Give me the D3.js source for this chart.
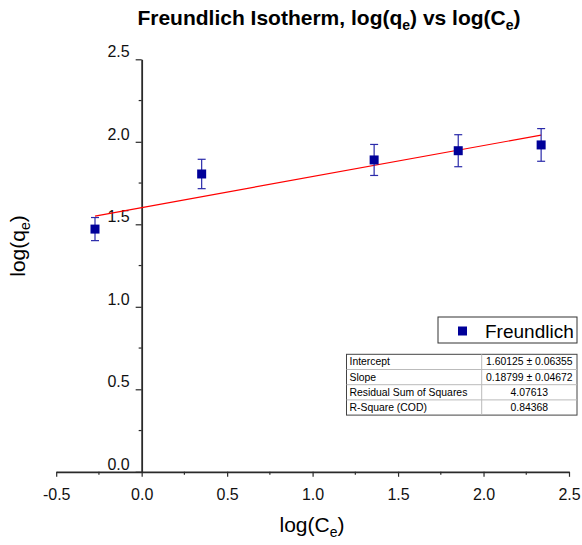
<!DOCTYPE html>
<html>
<head>
<meta charset="utf-8">
<script src="https://cdn.jsdelivr.net/npm/d3@7"></script>
<style>
  body { margin: 0; background: #fff; }
  svg { font-family: "Liberation Sans", Arial, sans-serif; }
</style>
</head>
<body>
<svg width="582" height="545"></svg>
<script>
// data
var logCe = [-0.273, 0.351, 1.360, 1.852, 2.337]
var logQe = [1.471, 1.805, 1.890, 1.946, 1.981]
var errQe = [0.070, 0.089, 0.094, 0.097, 0.099]

var fitIntercept = 1.60125
var fitSlope = 0.18799

var xTicks = [-0.5, 0.0, 0.5, 1.0, 1.5, 2.0, 2.5]
var yTicks = [0.0, 0.5, 1.0, 1.5, 2.0, 2.5]

var tableLabels = ["Intercept", "Slope", "Residual Sum of Squares", "R-Square (COD)"]
var tableValues = ["1.60125 \u00b1 0.06355", "0.18799 \u00b1 0.04672", "4.07613", "0.84368"]

var svg = d3.select("svg")

var x = d3.scaleLinear().domain([-0.5, 2.5]).range([56.2, 569])
var y = d3.scaleLinear().domain([0, 2.5]).range([471.8, 59.3])

var axisColor = "#2a2a2a"
var fmt = function (d) { return d3.format(".1f")(d).replace("\u2212", "-") }

// minor ticks
var xMinor = d3.range(-0.25, 2.5, 0.5)
var yMinor = d3.range(0.25, 2.5, 0.5)

svg.append("g").selectAll("line").data(xMinor).enter().append("line")
  .attr("x1", function (d) { return x(d) }).attr("x2", function (d) { return x(d) })
  .attr("y1", y(0)).attr("y2", y(0) + 3)
  .attr("stroke", axisColor).attr("stroke-width", 1.2)

svg.append("g").selectAll("line").data(yMinor).enter().append("line")
  .attr("y1", function (d) { return y(d) }).attr("y2", function (d) { return y(d) })
  .attr("x1", x(0)).attr("x2", x(0) - 3)
  .attr("stroke", axisColor).attr("stroke-width", 1.2)

var xAxis = svg.append("g")
  .attr("transform", "translate(0," + y(0) + ")")
  .call(d3.axisBottom(x).tickValues(xTicks).tickFormat(fmt)
    .tickSize(5).tickSizeOuter(0).tickPadding(12))

var yAxis = svg.append("g")
  .attr("transform", "translate(" + x(0) + ",0)")
  .call(d3.axisLeft(y).tickValues(yTicks).tickFormat(fmt)
    .tickSize(6).tickSizeOuter(0).tickPadding(6))

;[xAxis, yAxis].forEach(function (a) {
  a.select(".domain").attr("stroke", axisColor).attr("stroke-width", 1.8)
  a.selectAll(".tick line").attr("stroke", axisColor).attr("stroke-width", 1.2)
  a.selectAll(".tick text").attr("fill", "#111").style("font-size", "16px")
    .style("font-family", "Liberation Sans, Arial, sans-serif")
})
yAxis.selectAll(".tick text").attr("dy", "-0.15em")

// fit line
var fitX = d3.extent(logCe)
svg.append("line")
  .attr("x1", x(fitX[0])).attr("y1", y(fitIntercept + fitSlope * fitX[0]))
  .attr("x2", x(fitX[1])).attr("y2", y(fitIntercept + fitSlope * fitX[1]))
  .attr("stroke", "#ff0000").attr("stroke-width", 1.2)

// error bars
var pts = logCe.map(function (d, i) { return { x: d, y: logQe[i], e: errQe[i] } })
var eb = svg.append("g").attr("stroke", "#2a2aaa").attr("stroke-width", 1.2)
pts.forEach(function (p) {
  eb.append("line").attr("x1", x(p.x)).attr("x2", x(p.x))
    .attr("y1", y(p.y + p.e)).attr("y2", y(p.y - p.e))
  eb.append("line").attr("x1", x(p.x) - 4).attr("x2", x(p.x) + 4)
    .attr("y1", y(p.y + p.e)).attr("y2", y(p.y + p.e))
  eb.append("line").attr("x1", x(p.x) - 4).attr("x2", x(p.x) + 4)
    .attr("y1", y(p.y - p.e)).attr("y2", y(p.y - p.e))
})

// squares
svg.append("g").selectAll("rect").data(pts).enter().append("rect")
  .attr("x", function (d) { return x(d.x) - 4.5 })
  .attr("y", function (d) { return y(d.y) - 4.5 })
  .attr("width", 9).attr("height", 9)
  .attr("fill", "#000099")

// title
var title = svg.append("text")
  .attr("x", 329).attr("y", 25)
  .attr("text-anchor", "middle")
  .style("font-size", "21px").style("font-weight", "bold")
title.append("tspan").text("Freundlich Isotherm, log(q")
title.append("tspan").text("e").style("font-size", "14px").attr("dy", 5)
title.append("tspan").text(") vs log(C").attr("dy", -5)
title.append("tspan").text("e").style("font-size", "14px").attr("dy", 5)
title.append("tspan").text(")").attr("dy", -5)

// x axis title
var xt = svg.append("text")
  .attr("x", 312).attr("y", 532)
  .attr("text-anchor", "middle")
  .style("font-size", "21px")
xt.append("tspan").text("log(C")
xt.append("tspan").text("e").style("font-size", "14px").attr("dy", 5)
xt.append("tspan").text(")").attr("dy", -5)

// y axis title
var yt = svg.append("text")
  .attr("transform", "translate(25,246) rotate(-90)")
  .attr("text-anchor", "middle")
  .style("font-size", "21px")
yt.append("tspan").text("log(q")
yt.append("tspan").text("e").style("font-size", "14px").attr("dy", 5)
yt.append("tspan").text(")").attr("dy", -5)

// legend
var legend = svg.append("g")
legend.append("rect")
  .attr("x", 438).attr("y", 317).attr("width", 139).attr("height", 26)
  .attr("fill", "#fff").attr("stroke", "#333").attr("stroke-width", 1)
legend.append("rect")
  .attr("x", 458).attr("y", 326.5).attr("width", 9).attr("height", 9)
  .attr("fill", "#000099")
legend.append("text")
  .attr("x", 485).attr("y", 337.5)
  .style("font-size", "19px")
  .text("Freundlich")

// fit table
var tbl = svg.append("g")
var tLeft = 346.5, tRight = 577, tTop = 354.3, rowH = 15.2, colX = 481.7
tbl.append("rect")
  .attr("x", tLeft).attr("y", tTop).attr("width", tRight - tLeft).attr("height", rowH * tableLabels.length)
  .attr("fill", "#fff").attr("stroke", "#444").attr("stroke-width", 1)
tableLabels.forEach(function (lab, i) {
  if (i > 0) {
    tbl.append("line").attr("x1", tLeft).attr("x2", tRight)
      .attr("y1", tTop + i * rowH).attr("y2", tTop + i * rowH)
      .attr("stroke", "#bbb").attr("stroke-width", 1)
  }
  tbl.append("text").attr("x", tLeft + 3).attr("y", tTop + i * rowH + 11)
    .style("font-size", "10.4px").text(lab)
  tbl.append("text").attr("x", (colX + tRight) / 2).attr("y", tTop + i * rowH + 11)
    .attr("text-anchor", "middle")
    .style("font-size", "10.4px").text(tableValues[i])
})
tbl.append("line").attr("x1", colX).attr("x2", colX)
  .attr("y1", tTop).attr("y2", tTop + rowH * tableLabels.length)
  .attr("stroke", "#bbb").attr("stroke-width", 1)
</script>
</body>
</html>
